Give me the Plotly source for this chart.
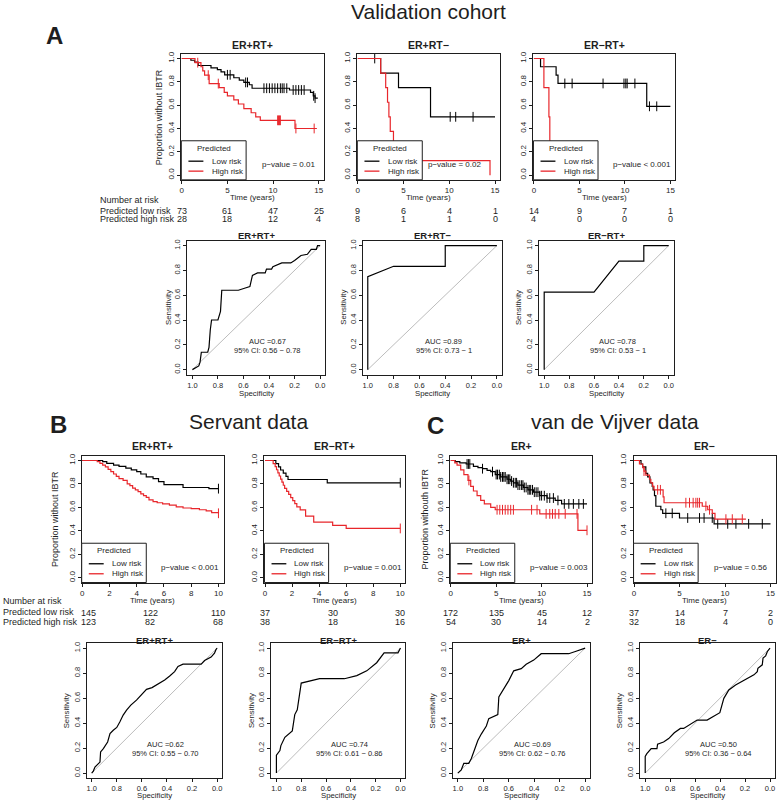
import plotly.graph_objects as go

W, H = 777, 800
FONT = "Liberation Sans, Arial, Helvetica, sans-serif"
INK = "#1e1e1e"
RED = "#e8262b"
DIAG = "#b4b4b4"
MINUS = "\u2212"

# ---------------- Kaplan-Meier data (time in years, proportion without IBTR) ----------------
# A, validation cohort, ER+RT+
a1_low_t = [0, 1.0, 1.4, 1.8, 3.2, 3.9, 4.3, 4.7, 5.7, 6.3, 6.8, 7.4, 7.7, 11.8, 14.1, 14.4, 14.6, 14.9]
a1_low_s = [1.0, 0.985, 0.97, 0.94, 0.92, 0.905, 0.885, 0.86, 0.835, 0.815, 0.795, 0.775, 0.745, 0.73, 0.71, 0.68, 0.66, 0.66]
a1_low_cens = [5.0, 5.3, 7.0, 7.2, 9.0, 9.3, 9.6, 9.9, 10.2, 10.5, 10.8, 11.0, 11.2, 11.5, 12.2, 12.5, 12.8, 13.1, 13.4, 14.45, 14.6]
a1_high_t = [0, 1.45, 2.1, 2.3, 2.5, 3.0, 4.1, 4.65, 5.0, 5.7, 6.2, 6.8, 7.6, 8.1, 8.6, 12.4, 14.8]
a1_high_s = [1.0, 0.964, 0.929, 0.893, 0.857, 0.785, 0.75, 0.71, 0.68, 0.645, 0.61, 0.57, 0.535, 0.50, 0.47, 0.40, 0.40]
a1_high_cens = [1.75, 2.9, 4.0, 10.5, 10.6, 10.7, 10.8, 12.5, 14.5]

# A, ER+RT-
a2_low_t = [0, 2.5, 4.45, 7.95, 15.0]
a2_low_s = [1.0, 0.875, 0.75, 0.5, 0.5]
a2_low_cens = [1.85, 10.1, 10.7, 12.6]
a2_high_t = [0, 2.5, 3.05, 3.25, 3.4, 3.55, 3.9, 4.1, 14.45]
a2_high_s = [1.0, 0.875, 0.75, 0.625, 0.5, 0.375, 0.25, 0.125, 0.0]
a2_high_cens = []

# A, ER-RT+
a3_low_t = [0, 0.73, 2.44, 2.65, 12.4, 15.0]
a3_low_s = [1.0, 0.929, 0.857, 0.786, 0.59, 0.59]
a3_low_cens = [3.4, 4.2, 7.6, 9.9, 10.1, 10.25, 11.1, 12.7, 13.5]
a3_high_t = [0, 1.1, 1.65, 1.75, 1.8]
a3_high_s = [1.0, 0.75, 0.5, 0.25, 0.0]
a3_high_cens = []

# B, Servant data, ER+RT+
b1_low_t = [0, 1.5, 1.8, 2.3, 2.7, 3.2, 3.6, 4.0, 4.3, 4.7, 5.2, 5.6, 6.0, 7.4, 9.3, 10.0]
b1_low_s = [1.0, 0.99, 0.975, 0.96, 0.95, 0.935, 0.92, 0.905, 0.885, 0.86, 0.845, 0.82, 0.795, 0.77, 0.76, 0.76]
b1_low_cens = [10.0]
b1_high_t = [0, 1.1, 1.3, 1.5, 1.7, 1.9, 2.1, 2.3, 2.5, 2.7, 3.0, 3.3, 3.5, 3.7, 3.9, 4.1,
             4.3, 4.5, 4.7, 4.9, 5.2, 5.5, 5.9, 6.4, 6.9, 7.4, 8.0, 8.6, 9.1, 9.5, 10.0]
b1_high_s = [1.0, 0.99, 0.975, 0.96, 0.945, 0.925, 0.905, 0.885, 0.865, 0.845, 0.83, 0.8, 0.785, 0.765, 0.75, 0.735,
             0.715, 0.7, 0.685, 0.665, 0.65, 0.64, 0.63, 0.62, 0.605, 0.595, 0.59, 0.58, 0.57, 0.555, 0.55]
b1_high_cens = [10.0]

# B, ER-RT+
b2_low_t = [0, 0.8, 1.0, 1.15, 1.35, 1.55, 1.7, 4.6, 10.0]
b2_low_s = [1.0, 0.973, 0.946, 0.919, 0.892, 0.865, 0.838, 0.81, 0.81]
b2_low_cens = [10.0]
b2_high_t = [0, 0.6, 0.75, 0.85, 0.95, 1.05, 1.15, 1.25, 1.35, 1.45, 1.6, 1.75, 1.9, 2.05, 2.2, 2.35, 2.6, 3.0, 3.6, 5.0, 6.0, 10.0]
b2_high_s = [1.0, 0.974, 0.947, 0.921, 0.895, 0.868, 0.842, 0.816, 0.789, 0.763, 0.737, 0.711, 0.684, 0.658, 0.632, 0.605, 0.579, 0.526, 0.474, 0.447, 0.421, 0.421]
b2_high_cens = [10.0]

# C, van de Vijver data, ER+
c1_low_t = [0, 0.5, 1.0, 1.7, 2.5, 3.0, 3.5, 4.0, 4.4, 4.9, 5.5, 6.2, 6.6, 6.9, 7.4, 8.0, 8.5, 9.1, 9.8, 10.6, 11.5, 12.2, 15.0]
c1_low_s = [1.0, 0.99, 0.98, 0.97, 0.95, 0.94, 0.93, 0.915, 0.905, 0.88, 0.86, 0.84, 0.825, 0.81, 0.79, 0.77, 0.75, 0.73, 0.70, 0.68, 0.66, 0.63, 0.63]
c1_low_cens = [1.8, 1.95, 2.1, 3.5, 4.6, 5.0, 5.15, 5.35, 5.5, 5.7, 5.85, 6.0, 6.2, 6.35, 6.5, 6.7, 6.9, 7.1, 7.25, 7.4,
               7.6, 7.8, 7.95, 8.1, 8.3, 8.5, 8.65, 8.8, 9.0, 9.2, 9.4, 9.6, 9.8, 10.0, 10.3, 10.6, 10.9, 11.3,
               11.8, 12.5, 13.0, 13.5, 14.1, 14.6]
c1_high_t = [0, 0.45, 0.7, 1.1, 1.45, 1.9, 2.2, 2.5, 2.9, 3.3, 3.7, 4.4, 4.9, 9.8, 14.0, 15.0]
c1_high_s = [1.0, 0.98, 0.96, 0.92, 0.88, 0.83, 0.78, 0.74, 0.70, 0.66, 0.63, 0.60, 0.58, 0.545, 0.405, 0.405]
c1_high_cens = [2.0, 5.1, 5.4, 5.7, 6.0, 6.3, 6.6, 6.9, 8.9, 9.5, 10.5, 10.9, 11.2, 11.5, 11.9, 12.6, 13.9, 15.0]

# C, ER-
c2_low_t = [0, 0.77, 0.95, 1.3, 1.5, 1.75, 2.0, 2.1, 2.25, 2.4, 2.95, 3.15, 5.0, 8.8, 15.0]
c2_low_s = [1.0, 0.97, 0.945, 0.89, 0.86, 0.81, 0.78, 0.75, 0.70, 0.61, 0.58, 0.55, 0.51, 0.46, 0.46]
c2_low_cens = [3.5, 4.2, 5.9, 7.2, 7.7, 8.6, 9.2, 10.3, 11.2, 12.6, 14.1]
c2_high_t = [0, 0.6, 0.95, 1.1, 1.3, 1.7, 1.85, 2.05, 2.2, 3.2, 3.3, 7.5, 8.1, 8.6, 8.9, 12.3]
c2_high_s = [1.0, 0.97, 0.94, 0.91, 0.875, 0.84, 0.81, 0.78, 0.75, 0.69, 0.64, 0.61, 0.58, 0.55, 0.50, 0.50]
c2_high_cens = [1.1, 2.6, 2.9, 5.7, 6.1, 6.5, 6.8, 7.0, 7.2, 7.9, 8.3, 10.1, 10.8, 11.9]

# numbers at risk
a_risk_t = [0, 5, 10, 15]
a1_risk = ([73, 61, 47, 25], [28, 18, 12, 4])
a2_risk = ([9, 6, 4, 1], [8, 1, 1, 0])
a3_risk = ([14, 9, 7, 1], [4, 0, 0, 0])
b_risk_t = [0, 5, 10]
b1_risk = ([145, 122, 110], [123, 82, 68])
b2_risk = ([37, 30, 30], [38, 18, 16])
c_risk_t = [0, 5, 10, 15]
c1_risk = ([172, 135, 45, 12], [54, 30, 14, 2])
c2_risk = ([37, 14, 7, 2], [32, 18, 4, 0])

# ---------------- ROC data (specificity, sensitivity) ----------------
roc_a1_spec = [1.0, 0.97, 0.95, 0.94, 0.93, 0.88, 0.87, 0.86, 0.85, 0.80, 0.78, 0.77, 0.64, 0.58, 0.55, 0.53, 0.49,
               0.43, 0.42, 0.38, 0.37, 0.30, 0.23, 0.20, 0.15, 0.10, 0.07, 0.03, 0.02, 0.0]
roc_a1_sens = [0.0, 0.02, 0.03, 0.06, 0.14, 0.14, 0.18, 0.32, 0.40, 0.40, 0.47, 0.64, 0.64, 0.66, 0.67, 0.76, 0.78,
               0.78, 0.81, 0.81, 0.83, 0.86, 0.86, 0.88, 0.92, 0.93, 0.97, 0.97, 1.0, 1.0]
roc_a2_spec = [1.0, 1.0, 0.8, 0.4, 0.4, 0.0]
roc_a2_sens = [0.0, 0.75, 0.833, 0.833, 1.0, 1.0]
roc_a3_spec = [1.0, 1.0, 0.6, 0.4, 0.2, 0.2, 0.0]
roc_a3_sens = [0.0, 0.625, 0.625, 0.875, 0.875, 1.0, 1.0]
roc_b1_spec = [1.0, 0.987, 0.974, 0.947, 0.934, 0.929, 0.907, 0.873, 0.854, 0.828, 0.80, 0.775, 0.749, 0.722, 0.688,
               0.643, 0.603, 0.563, 0.519, 0.471, 0.418, 0.378, 0.339, 0.312, 0.272, 0.127, 0.10, 0.048, 0.021, 0.008, 0.0]
roc_b1_sens = [0.0, 0.016, 0.048, 0.075, 0.088, 0.169, 0.196, 0.249, 0.316, 0.343, 0.365, 0.41, 0.464, 0.504, 0.544,
               0.584, 0.625, 0.67, 0.684, 0.713, 0.745, 0.777, 0.812, 0.853, 0.871, 0.871, 0.90, 0.928, 0.96, 0.99, 1.0]
roc_b2_spec = [1.0, 1.0, 0.972, 0.964, 0.932, 0.884, 0.872, 0.852, 0.832, 0.80, 0.652, 0.452, 0.352, 0.272, 0.192,
               0.132, 0.02, 0.0]
roc_b2_sens = [0.0, 0.143, 0.18, 0.22, 0.286, 0.325, 0.338, 0.468, 0.506, 0.72, 0.755, 0.755, 0.78, 0.818, 0.883,
               0.962, 0.962, 1.0]
roc_c1_spec = [1.0, 0.973, 0.953, 0.914, 0.894, 0.875, 0.843, 0.816, 0.776, 0.757, 0.718, 0.686, 0.678, 0.639, 0.6,
               0.561, 0.502, 0.463, 0.404, 0.345, 0.129, 0.071, 0.0]
roc_c1_sens = [0.0, 0.026, 0.078, 0.078, 0.117, 0.169, 0.26, 0.312, 0.377, 0.436, 0.455, 0.468, 0.61, 0.675, 0.74,
               0.818, 0.836, 0.87, 0.904, 0.955, 0.955, 0.975, 1.0]
roc_c2_spec = [1.0, 1.0, 0.987, 0.952, 0.906, 0.901, 0.853, 0.812, 0.767, 0.718, 0.692, 0.651, 0.584, 0.504, 0.402,
               0.37, 0.33, 0.276, 0.209, 0.129, 0.102, 0.097, 0.062, 0.056, 0.035, 0.021, 0.0]
roc_c2_sens = [0.0, 0.134, 0.155, 0.196, 0.196, 0.231, 0.249, 0.276, 0.322, 0.357, 0.357, 0.383, 0.424, 0.424, 0.483,
               0.598, 0.665, 0.705, 0.745, 0.786, 0.812, 0.839, 0.866, 0.92, 0.938, 0.973, 1.0]

# ---------------- helpers ----------------
fig = go.Figure()
axes = {}
notes = []
shapes = []
n_axes = [0]


def px(x):
    return x / W


def py(y):
    return 1 - y / H


def note(text, x, y, size, xref="paper", yref="paper", xanchor="center", yanchor="middle",
         bold=False, angle=0, xshift=0):
    notes.append(dict(text="<b>%s</b>" % text if bold else text, x=x, y=y, xref=xref, yref=yref,
                      xanchor=xanchor, yanchor=yanchor, showarrow=False, textangle=angle,
                      borderpad=0, xshift=xshift, font=dict(family=FONT, size=size, color=INK)))


def make_axes(box, xrange, xticks, xlabels, fsize):
    n_axes[0] += 1
    sfx = "" if n_axes[0] == 1 else str(n_axes[0])
    x0, x1, y0, y1 = box
    common = dict(showline=True, mirror=True, linecolor=INK, linewidth=1, ticks="outside",
                  ticklen=3, tickwidth=1, tickcolor=INK, showgrid=False, zeroline=False,
                  tickfont=dict(family=FONT, size=fsize, color=INK))
    axes["xaxis" + sfx] = dict(domain=[px(x0), px(x1)], range=xrange, anchor="y" + sfx,
                               tickvals=xticks, ticktext=xlabels, **common)
    axes["yaxis" + sfx] = dict(domain=[py(y1), py(y0)], range=[-0.04, 1.04], anchor="x" + sfx,
                               tickvals=[0, 0.2, 0.4, 0.6, 0.8, 1.0],
                               ticktext=["0.0", "0.2", "0.4", "0.6", "0.8", "1.0"],
                               tickangle=-90, **common)
    return "x" + sfx, "y" + sfx


def surv_at(ts, ss, t):
    s = ss[0]
    for ti, si in zip(ts, ss):
        if ti <= t:
            s = si
    return s


def km_panel(box, xrange, xticks, title, title_y, curves, pval, pval_x, xlabel_y,
             risk_t, risk, risk_y, ylabel=None, first_shift=0):
    xa, ya = make_axes(box, xrange, xticks, [str(t) for t in xticks], 8)
    for ts, ss, cens, col in curves:
        fig.add_trace(go.Scatter(x=ts, y=ss, mode="lines", line=dict(color=col, width=1.2, shape="hv"),
                                 xaxis=xa, yaxis=ya, showlegend=False, hoverinfo="skip"))
        if cens:
            fig.add_trace(go.Scatter(x=cens, y=[surv_at(ts, ss, c) for c in cens], mode="markers",
                                     marker=dict(symbol="line-ns-open", size=7, color=col,
                                                 line=dict(color=col, width=1)),
                                     xaxis=xa, yaxis=ya, showlegend=False, hoverinfo="skip"))
    # legend box drawn over the curves, as in R
    shapes.append(dict(type="rect", xref=xa + " domain", yref=ya + " domain", x0=0, x1=0.455, y0=0, y1=0.31,
                       fillcolor="white", line=dict(color=INK, width=1), layer="above"))
    for yy, col in [(0.148, "black"), (0.069, RED)]:
        shapes.append(dict(type="line", xref=xa + " domain", yref=ya + " domain", x0=0.05, x1=0.155,
                           y0=yy, y1=yy, line=dict(color=col, width=1.3), layer="above"))
    note("Predicted", 0.2275, 0.25, 8, xref=xa + " domain", yref=ya + " domain")
    note("Low risk", 0.205, 0.148, 8, xref=xa + " domain", yref=ya + " domain", xanchor="left")
    note("High risk", 0.205, 0.069, 8, xref=xa + " domain", yref=ya + " domain", xanchor="left")
    note(pval, pval_x, 0.122, 8, xref=xa + " domain", yref=ya + " domain")
    note("<b>%s</b>" % title, 0.5, py(title_y), 10.5, xref=xa + " domain")
    note("Time (years)", 0.5, py(xlabel_y), 8, xref=xa + " domain")
    if ylabel:
        note(ylabel[0], px(ylabel[1]), py((box[2] + box[3]) / 2), 9, angle=-90)
    for row, yy in zip(risk, risk_y):
        for i, (t, v) in enumerate(zip(risk_t, row)):
            note(str(v), t, py(yy), 9, xref=xa, xshift=first_shift if i == 0 else 0)


def roc_panel(box, spec, sens, title, title_y, auc, ci, sens_x, spec_y):
    ticks = [1.0, 0.8, 0.6, 0.4, 0.2, 0.0]
    xa, ya = make_axes(box, [1.04, -0.04], ticks, ["%.1f" % t for t in ticks], 7.5)
    fig.add_trace(go.Scatter(x=[1, 0], y=[0, 1], mode="lines", line=dict(color=DIAG, width=0.9),
                             xaxis=xa, yaxis=ya, showlegend=False, hoverinfo="skip"))
    fig.add_trace(go.Scatter(x=spec, y=sens, mode="lines", line=dict(color="black", width=1.2),
                             xaxis=xa, yaxis=ya, showlegend=False, hoverinfo="skip"))
    note(auc, 0.41, 0.23, 7.5, xref=xa, yref=ya)
    note(ci, 0.41, 0.155, 7.5, xref=xa, yref=ya)
    note("<b>%s</b>" % title, 0.5, py(title_y), 9.5, xref=xa + " domain")
    note("Sensitivity", px(sens_x), py((box[2] + box[3]) / 2), 7.8, angle=-90)
    note("Specificity", 0.5, py(spec_y), 7.8, xref=xa + " domain")


# ---------------- panel A ----------------
A_KM_Y = (51, 177.5)
A_XR = [-0.05, 15.55]
km_panel((180, 323) + A_KM_Y, A_XR, [0, 5, 10, 15], "ER+RT+", 42,
         [(a1_low_t, a1_low_s, a1_low_cens, "black"), (a1_high_t, a1_high_s, a1_high_cens, RED)],
         "p" + MINUS + "value = 0.01", 0.752, 195.5, a_risk_t, a1_risk, (208.5, 217),
         ylabel=("Proportion without IBTR", 157))
km_panel((356.7, 500) + A_KM_Y, A_XR, [0, 5, 10, 15], "ER+RT" + MINUS, 42,
         [(a2_low_t, a2_low_s, a2_low_cens, "black"), (a2_high_t, a2_high_s, a2_high_cens, RED)],
         "p" + MINUS + "value = 0.02", 0.68, 195.5, a_risk_t, a2_risk, (208.5, 217))
km_panel((533.5, 676) + A_KM_Y, A_XR, [0, 5, 10, 15], "ER" + MINUS + "RT+", 42,
         [(a3_low_t, a3_low_s, a3_low_cens, "black"), (a3_high_t, a3_high_s, a3_high_cens, RED)],
         "p" + MINUS + "value < 0.001", 0.766, 195.5, a_risk_t, a3_risk, (208.5, 217))

note("Number at risk", px(97), py(197.7), 9, xanchor="left")
note("Predicted low risk", px(97), py(208.5), 9, xanchor="left")
note("Predicted high risk", px(97), py(217), 9, xanchor="left")

A_ROC_Y = (238.5, 373)
roc_panel((186, 324.5) + A_ROC_Y, roc_a1_spec, roc_a1_sens, "ER+RT+", 233.5,
          "AUC =0.67", "95% CI: 0.56 " + MINUS + " 0.78", 167, 392)
roc_panel((362, 502) + A_ROC_Y, roc_a2_spec, roc_a2_sens, "ER+RT" + MINUS, 233.5,
          "AUC =0.89", "95% CI: 0.73 " + MINUS + " 1", 342.5, 392)
roc_panel((539.3, 674.3) + A_ROC_Y, roc_a3_spec, roc_a3_sens, "ER" + MINUS + "RT+", 233.5,
          "AUC =0.78", "95% CI: 0.53 " + MINUS + " 1", 518.5, 392)

# ---------------- panels B and C ----------------
BC_KM_Y = (454.5, 581.7)
B_XR = [-0.04, 10.38]
km_panel((80, 222.5) + BC_KM_Y, B_XR, [0, 2, 4, 6, 8, 10], "ER+RT+", 445,
         [(b1_low_t, b1_low_s, b1_low_cens, "black"), (b1_high_t, b1_high_s, b1_high_cens, RED)],
         "p" + MINUS + "value < 0.001", 0.762, 599.5, b_risk_t, b1_risk, (611.8, 620.9),
         ylabel=("Proportion without IBTR", 53), first_shift=6)
km_panel((263.5, 405) + BC_KM_Y, B_XR, [0, 2, 4, 6, 8, 10], "ER" + MINUS + "RT+", 445,
         [(b2_low_t, b2_low_s, b2_low_cens, "black"), (b2_high_t, b2_high_s, b2_high_cens, RED)],
         "p" + MINUS + "value = 0.001", 0.77, 599.5, b_risk_t, b2_risk, (611.8, 620.9))
km_panel((450, 592.3) + BC_KM_Y, A_XR, [0, 5, 10, 15], "ER+", 445,
         [(c1_low_t, c1_low_s, c1_low_cens, "black"), (c1_high_t, c1_high_s, c1_high_cens, RED)],
         "p" + MINUS + "value = 0.003", 0.765, 599.5, c_risk_t, c1_risk, (611.8, 620.9),
         ylabel=("Proportion withouth IBTR", 425))
km_panel((634, 776.5) + BC_KM_Y, A_XR, [0, 5, 10, 15], "ER" + MINUS, 445,
         [(c2_low_t, c2_low_s, c2_low_cens, "black"), (c2_high_t, c2_high_s, c2_high_cens, RED)],
         "p" + MINUS + "value = 0.56", 0.753, 599.5, c_risk_t, c2_risk, (611.8, 620.9))

note("Number at risk", px(0), py(600.7), 9, xanchor="left")
note("Predicted low risk", px(0), py(611.5), 9, xanchor="left")
note("Predicted high risk", px(0), py(620.9), 9, xanchor="left")

BC_ROC_Y = (642.5, 778)
roc_panel((85, 221) + BC_ROC_Y, roc_b1_spec, roc_b1_sens, "ER+RT+", 639.5,
          "AUC =0.62", "95% CI: 0.55 " + MINUS + " 0.70", 65, 795)
roc_panel((270.5, 405) + BC_ROC_Y, roc_b2_spec, roc_b2_sens, "ER" + MINUS + "RT+", 639.5,
          "AUC =0.74", "95% CI: 0.61 " + MINUS + " 0.86", 250.5, 795)
roc_panel((452.5, 590.5) + BC_ROC_Y, roc_c1_spec, roc_c1_sens, "ER+", 639.5,
          "AUC =0.69", "95% CI: 0.62 " + MINUS + " 0.76", 432.5, 795)
roc_panel((640.7, 776) + BC_ROC_Y, roc_c2_spec, roc_c2_sens, "ER" + MINUS, 639.5,
          "AUC =0.50", "95% CI: 0.36 " + MINUS + " 0.64", 620, 795)

# ---------------- headings ----------------
note("Validation cohort", px(428), py(8.5), 21)
note("A", px(53), py(33), 24, bold=True)
note("Servant data", px(247), py(420), 21)
note("B", px(57), py(423), 24, bold=True)
note("van de Vijver data", px(615), py(420), 21)
note("C", px(435), py(424), 24, bold=True)

fig.update_layout(width=W, height=H, autosize=False, margin=dict(l=0, r=0, t=0, b=0),
                  paper_bgcolor="white", plot_bgcolor="white", showlegend=False,
                  font=dict(family=FONT, color=INK), annotations=notes, shapes=shapes, **axes)
# drop the browser's default 8px body margin so the 777x800 figure fills the window exactly
fig.write_html("out.html", config={"displayModeBar": False},
               post_script="document.body.style.margin='0px';document.body.style.overflow='hidden';")
